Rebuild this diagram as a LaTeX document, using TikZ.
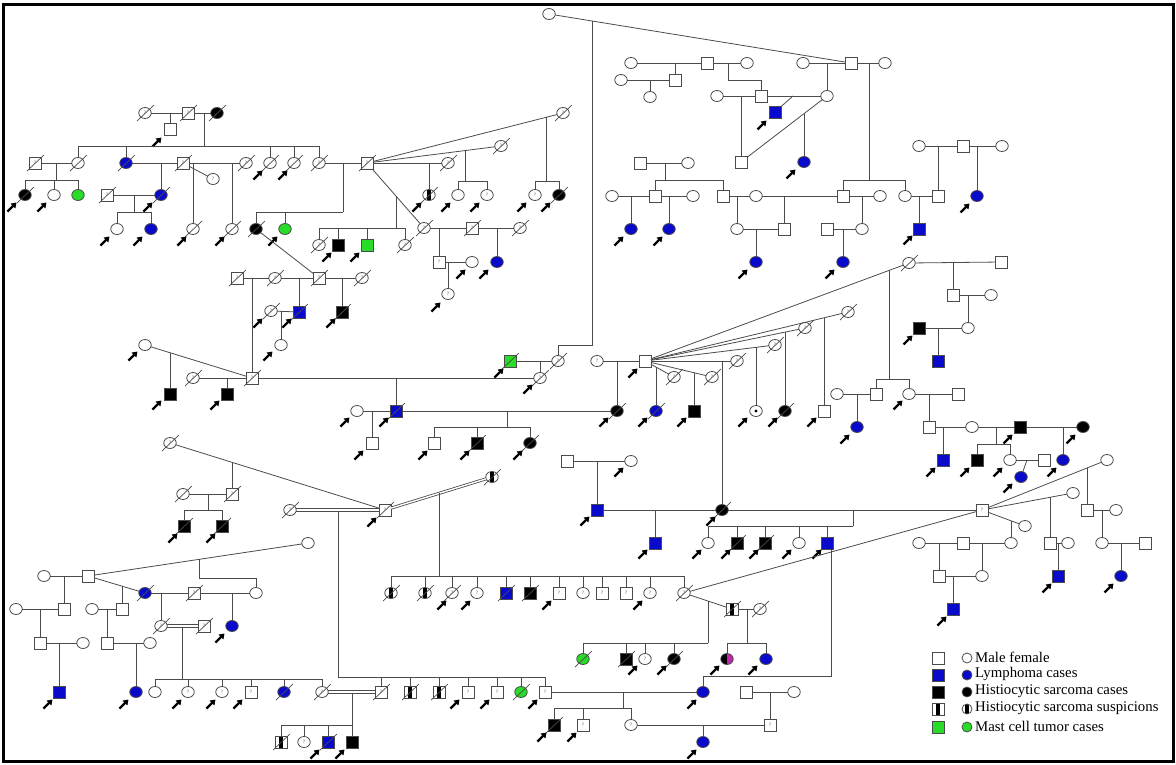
\documentclass[tikz,border=0pt]{standalone}
\usepackage{fontspec}
\setmainfont{Liberation Serif}
\usetikzlibrary{shapes.geometric,arrows.meta}
\definecolor{lymC}{RGB}{10,10,205}
\definecolor{mctC}{RGB}{40,220,40}
\definecolor{magC}{RGB}{190,40,170}
\definecolor{lineC}{RGB}{75,75,75}
\tikzset{
  msym/.style={draw=lineC, fill=white, rectangle, minimum size=12pt, inner sep=0pt, outer sep=0pt, line width=0.8pt},
  fsym/.style={draw=lineC, fill=white, ellipse, minimum width=12.5pt, minimum height=11pt, inner sep=0pt, outer sep=0pt, line width=0.8pt},
  lym/.style={fill=lymC},
  hs/.style={fill=black},
  mct/.style={fill=mctC},
  qlab/.style={font=\fontsize{5}{5}\selectfont, inner sep=0pt, text=lineC},
  qm/.style={label={[qlab]center:?}},
  susp/.style={path picture={\fill[black] ([xshift=-1.8pt]path picture bounding box.south) rectangle ([xshift=1.8pt]path picture bounding box.north);}},
  halfmag/.style={path picture={\fill[black] (path picture bounding box.south west) rectangle (path picture bounding box.north); \fill[magC] (path picture bounding box.south) rectangle (path picture bounding box.north east);}},
  dotc/.style={path picture={\fill[black] (path picture bounding box.center) circle (1.6pt);}},
  dslash/.style={draw=lineC, line width=0.7pt},
  prob/.style={draw=black, line width=2.2pt, -{Triangle[length=5pt,width=6.5pt]}},
  ln/.style={draw=lineC, line width=0.8pt},
  dbl/.style={draw=lineC, line width=0.8pt, double, double distance=1.4pt},
  legtext/.style={anchor=west, inner sep=1pt, text=black, font=\fontsize{14.8}{16}\selectfont}
}
\newcommand\myM[4]{\node[msym,#4] (#1) at (#2,#3) {};}
\newcommand\myF[4]{\node[fsym,#4] (#1) at (#2,#3) {};}
\newcommand\myX[1]{\draw[dslash] ([shift={(-8,8)}]#1.center) -- ([shift={(9,-8)}]#1.center);}
\newcommand\myMd[4]{\myM{#1}{#2}{#3}{#4}\myX{#1}}
\newcommand\myFd[4]{\myF{#1}{#2}{#3}{#4}\myX{#1}}
\newcommand\myA[2]{\draw[prob] (#1,#2) ++(-4.5,4.5) -- ++(9,-9);}
\newcommand\mySib[4]{\draw[ln] (#1,#2) -- (#1,#3); \foreach \kid in {#4}{\draw[ln] (#1,#3) -| (\kid);}}
\newcommand\myDrop[2]{\draw[ln] (#2 |- 0,#1) -- (#2);}
\newcommand\myL[2]{\draw[ln] (#1) -- (#2);}
\newcommand\myDbl[2]{\draw[ln] ([yshift=1.3pt]#1.east) -- ([yshift=1.3pt]#2.west); \draw[ln] ([yshift=-1.3pt]#1.east) -- ([yshift=-1.3pt]#2.west);}
\begin{document}
\begin{tikzpicture}[x=1pt,y=-1pt]
\useasboundingbox (0,0) rectangle (1176,764);
\draw[line width=3pt, black] (3,4) rectangle (1173,761);

% ---------------- top-left family
\myFd{A1}{145}{113}{qm}
\myMd{A2}{188}{113}{qm}
\myFd{A3}{217}{113}{hs}
\myM{A4}{170}{129}{} \myA{157}{142}
\myL{A1}{A2} \myL{A2}{A3} \myDrop{113}{A4}
\myMd{B0}{35}{163}{qm}
\myFd{B1}{78}{163}{}
\myFd{B3}{126}{163}{lym}
\myMd{B4}{183}{163}{qm}
\myF{B5}{213}{179}{qm}
\myFd{B6}{246}{163}{qm}
\myFd{B8}{270}{163}{} \myA{258}{175}
\myFd{B9}{294}{163}{} \myA{283}{175}
\myFd{B10}{319}{163}{qm}
\myMd{B11}{367}{163}{qm}
\mySib{204}{113}{146}{B1,B3,B8,B9,B10}
\myFd{C1}{25}{195}{hs} \myA{12}{207}
\myF{C2}{54}{195}{} \myA{42}{207}
\myF{C3}{78}{195}{mct}
\myL{B0}{B1} \mySib{56}{163}{180}{C1,C2,C3}
\myFd{C5}{161}{195}{lym} \myA{148}{207}
\myMd{C4}{107}{195}{qm}
\myL{B3}{B4} \myDrop{163}{C5}
\myF{D1}{117}{229}{} \myA{105}{241}
\myF{D2}{151}{229}{lym} \myA{138}{241}
\myL{C4}{C5} \mySib{134}{195}{212}{D1,D2}
\myL{B4}{B5} \myL{B4}{B6}
\myFd{D3}{193}{229}{} \myA{182}{241} \myDrop{163}{D3}
\myFd{D4}{232}{229}{} \myA{220}{241} \myDrop{163}{D4}
\myFd{E1}{256}{229}{hs} \myA{273}{241}
\myF{E2}{285}{229}{mct}
\myL{B10}{B11} \mySib{343}{163}{212}{E1,E2}

% ---------------- row 278
\myMd{F1}{237}{278}{qm}
\myFd{F2}{275}{278}{qm}
\myMd{F4}{319}{278}{qm}
\myFd{F5}{362}{278}{qm}
\myL{F1}{F2} \myL{F2}{F4} \myL{F4}{F5} \myL{E1}{F4}
\myMd{F6}{299}{312}{lym} \myA{287}{323} \myDrop{278}{F6}
\myMd{F7}{342}{312}{hs} \myA{331}{323} \myDrop{278}{F7}
\myFd{G1}{271}{311}{qm} \myA{258}{323} \myL{G1}{F6}
\myF{G2}{281}{345}{} \myA{268}{356} \myDrop{311}{G2}
\myMd{G5}{252}{378}{qm} \myDrop{278}{G5}
\myF{G3}{145}{345}{} \myA{133}{356}
\myL{G3}{G5}
\myM{G4}{170}{394}{hs} \myA{157}{405} \draw[ln] (170,352.7) -- (G4);
\myFd{G6}{193}{378}{qm} \myL{G6}{G5}
\myM{G7}{227}{394}{hs} \myA{215}{405} \myDrop{378}{G7}

% ---------------- middle line
\myFd{H1}{540}{378}{qm} \myA{528}{389}
\myL{G5}{H1}
\myMd{H2}{510}{361}{mct} \myA{499}{373}
\myFd{H3}{558}{361}{qm}
\myL{H2}{H3} \myDrop{361}{H1}
\myF{I0}{549}{14}{}
\myM{J1}{851}{63}{}
\myL{I0}{J1}
\coordinate (k1) at (592,21);
\draw[ln] (H3.north) |- (592,345) -- (k1);
\myMd{H4}{396}{411}{lym} \myA{384}{422} \myDrop{378}{H4}
\myF{H5}{357}{411}{} \myA{345}{422} \myL{H5}{H4}
\myM{H6}{372}{443}{} \myA{359}{455} \myDrop{411}{H6}
\myFd{H8}{617}{411}{hs} \myA{604}{422} \myL{H4}{H8}
\myM{H9}{434}{443}{} \myA{423}{455}
\myMd{H10}{477}{443}{hs} \myA{465}{455}
\myFd{H11}{530}{443}{hs} \myA{518}{455}
\mySib{507}{411}{427}{H9,H10,H11}
\myF{I1}{597}{361}{qm}
\myM{I2}{645}{361}{} \myA{633}{373}
\myL{I1}{I2} \myDrop{361}{H8}
\myFd{I3}{674}{377}{qm}
\myFd{I4}{712}{377}{qm}
\myFd{I5}{737}{361}{qm}
\myFd{I6}{775}{345}{qm}
\myFd{I7}{805}{328}{qm}
\myFd{I8}{848}{312}{qm}
\myFd{I9}{909}{263}{}
\foreach \sp in {I3,I4,I5,I6,I7,I8,I9}{\myL{I2}{\sp}}
\myFd{J2}{656}{411}{lym} \myA{643}{422} \draw[ln] (656,367) -- (J2);
\myM{J3}{694}{411}{hs} \myA{682}{422} \draw[ln] (694,372.7) -- (J3);
\myFd{J4}{722}{510}{hs} \myA{711}{521} \draw[ln] (722,361) -- (J4);
\myF{J5}{756}{411}{dotc} \myA{743}{422} \draw[ln] (756,347.3) -- (J5);
\myFd{J6}{785}{411}{hs} \myA{773}{422} \draw[ln] (785,332.1) -- (J6);
\myM{J7}{824}{411}{} \myA{812}{422} \draw[ln] (824,317.8) -- (J7);
\myM{K1}{876}{394}{}
\myF{K2}{909}{394}{} \myA{898}{405}
\mySib{889}{270.4}{379}{K1,K2}
\myM{K3}{958}{394}{} \myL{K2}{K3}
\myM{L1}{929}{427}{} \myDrop{394}{L1}
\myF{L2}{972}{427}{}
\myM{L3}{1020}{427}{hs} \myA{1008}{439}
\myF{L4}{1083}{427}{hs} \myA{1071}{439}
\myL{L1}{L2} \myL{L2}{L3} \myL{L3}{L4}
\myM{L5}{943}{460}{lym} \myA{931}{472} \myDrop{427}{L5}
\myM{L6}{977}{460}{hs} \myA{965}{472}
\myF{L7}{1010}{460}{} \myA{998}{472}
\mySib{996}{427}{444}{L6,L7}
\myF{L8}{1063}{460}{lym} \myA{1052}{472} \myDrop{427}{L8}
\myM{L9}{1044}{460}{} \myL{L7}{L9}
\myF{L10}{1021}{477}{lym} \myA{1008}{488} \draw[ln] (1027,460) -- (L10);
\myF{K4}{837}{394}{} \myL{K4}{K1}
\myF{K5}{857}{427}{lym} \myA{845}{439} \myDrop{394}{K5}
\myM{M1}{1001}{262}{} \myL{I9}{M1}
\myM{M2}{953}{295}{} \myDrop{262}{M2}
\myF{M3}{991}{295}{} \myL{M2}{M3}
\myF{M4}{968}{328}{} \myDrop{295}{M4}
\myM{M5}{919}{328}{hs} \myA{908}{340} \myL{M5}{M4}
\myM{M6}{938}{361}{lym} \myDrop{328}{M6}

% ---------------- row 510
\myM{N1}{597}{510}{lym} \myA{585}{521}
\myM{N2}{567}{461}{}
\myF{N3}{631}{461}{} \myA{619}{472}
\myL{N2}{N3} \myDrop{461}{N1}
\myM{N9}{982}{510}{qm}
\myL{N1}{J4} \myL{J4}{N9}
\myM{N4}{655}{543}{lym} \myA{643}{554} \myDrop{510}{N4}
\myF{O1}{708}{543}{} \myA{697}{554}
\myMd{O2}{737}{543}{hs} \myA{726}{554}
\myMd{O3}{765}{543}{hs} \myA{754}{554}
\myF{O4}{799}{543}{} \myA{787}{554}
\myM{O5}{827}{543}{lym} \myA{817}{554}
\mySib{853}{510}{526}{O1,O2,O3,O4,O5}
\myF{Q1}{703}{692}{lym} \myA{692}{704}
\draw[ln] ([xshift=4pt]O5.south) |- (703,676) -- (Q1);
\myFd{R1}{684}{593}{qm}
\myL{R1}{N9}
\myF{R2}{1107}{460}{} \myL{N9}{R2}
\myM{R3}{1087}{510}{} \draw[ln] (1087,468) -- (R3);
\myF{R4}{1116}{510}{} \myL{R3}{R4}
\myF{R5}{1102}{543}{} \myDrop{510}{R5}
\myM{R6}{1145}{543}{} \myL{R5}{R6}
\myF{R7}{1121}{576}{lym} \myA{1109}{588} \myDrop{543}{R7}
\myF{R8}{1073}{493}{} \myL{N9}{R8}
\myM{R9}{1050}{543}{} \draw[ln] (1050,497.3) -- (R9);
\myF{R10}{1068}{543}{} \myL{R9}{R10}
\myM{R11}{1058}{576}{lym} \myA{1047}{588} \myDrop{543}{R11}
\myF{R12}{1025}{526}{} \myL{N9}{R12}
\myF{R13}{1011}{543}{} \draw[ln] (1011,520.8) -- (R13);
\myF{R14}{919}{543}{}
\myM{R15}{963}{543}{}
\myL{R14}{R15} \myL{R15}{R13}
\myM{R16}{939}{576}{} \myDrop{543}{R16}
\myF{R17}{982}{576}{} \myDrop{543}{R17}
\myL{R16}{R17}
\myM{R18}{953}{609}{lym} \myA{942}{621} \myDrop{576}{R18}

% ---------------- S / T
\myMd{S1}{732}{609}{susp}
\myFd{S2}{760}{609}{qm}
\myL{R1}{S1} \myL{S1}{S2}
\myF{S3}{727}{659}{halfmag} \myA{715}{670}
\myF{S4}{766}{659}{lym} \myA{753}{670}
\mySib{747}{609}{643}{S3,S4}
\myFd{T1}{583}{659}{mct}
\myMd{T2}{626}{659}{hs}
\myF{T3}{645}{659}{qm} \myA{633}{670}
\myFd{T4}{674}{659}{hs} \myA{662}{670}
\mySib{708}{601}{643}{T1,T2,T3,T4}

% ---------------- U / V / X / Y
\myMd{V2}{385}{510}{qm} \myA{372}{522}
\myFd{V3}{492}{477}{susp}
\draw[dbl] (V2) -- (V3);
\myFd{V1}{290}{510}{qm}
\myDbl{V1}{V2}
\myFd{W1}{170}{443}{qm}
\myL{W1}{V2}
\myFd{U1}{391}{593}{susp}
\myFd{U2}{425}{593}{susp}
\myFd{U3}{452}{593}{qm} \myA{442}{605}
\myF{U4}{477}{593}{qm} \myA{466}{605}
\myMd{U5}{506}{593}{lym}
\myMd{U6}{530}{593}{hs}
\myM{U7}{559}{593}{qm} \myA{547}{605}
\myF{U8}{583}{593}{qm}
\myM{U9}{602}{593}{qm}
\myM{U10}{626}{593}{qm}
\myF{U11}{650}{593}{qm} \myA{638}{605}
\mySib{439}{493.3}{576}{U1,U2,U3,U4,U5,U6,U7,U8,U9,U10,U11,R1}
\myMd{X1}{381}{692}{qm}
\myMd{X2}{410}{692}{susp}
\myMd{X3}{439}{692}{susp}
\myM{X4}{468}{692}{qm} \myA{455}{704}
\myM{X5}{497}{692}{qm} \myA{485}{704}
\myFd{X6}{521}{692}{mct}
\myM{X7}{545}{692}{qm} \myA{533}{704}
\mySib{338}{511.3}{677}{X1,X2,X3,X4,X5,X6,X7}
\myFd{X0}{322}{692}{qm}
\myDbl{X0}{X1}
\myMd{Y1}{281}{742}{susp}
\myF{Y2}{304}{742}{qm}
\myMd{Y3}{328}{742}{lym} \myA{315}{754}
\myM{Y4}{352}{742}{hs} \myA{340}{754}
\mySib{352}{693.3}{725}{Y1,Y2,Y3,Y4}
\myL{X7}{Q1}
\myMd{Q2}{554}{725}{hs} \myA{542}{737}
\myM{Q3}{583}{725}{qm} \myA{572}{737}
\myF{Q4}{631}{725}{qm}
\mySib{623}{692}{708}{Q2,Q3,Q4}
\myM{Q5}{770}{725}{qm}
\myL{Q4}{Q5}
\myM{Q6}{746}{692}{}
\myF{Q7}{794}{692}{}
\myL{Q6}{Q7} \myDrop{692}{Q5}
\myF{Q8}{703}{742}{lym} \myA{692}{754} \myDrop{725}{Q8}

% ---------------- W
\myMd{W3}{232}{494}{qm}
\myFd{W2}{183}{494}{}
\draw[ln] (232,462.3) -- (W3); \myL{W2}{W3}
\myMd{W4}{184}{526}{hs} \myA{173}{538}
\myMd{W5}{222}{526}{hs} \myA{211}{538}
\mySib{208}{494}{510}{W4,W5}

% ---------------- Z (bottom-left)
\myF{Z1}{44}{576}{}
\myM{Z2}{88}{576}{}
\myL{Z1}{Z2}
\myF{Z3}{308}{543}{}
\myL{Z2}{Z3}
\myF{Z4}{256}{593}{}
\mySib{199}{559.4}{578}{Z4}
\myM{Z5}{64}{609}{} \myDrop{576}{Z5}
\myF{Z6}{16}{609}{} \myL{Z6}{Z5}
\myM{Z7}{40}{643}{} \myDrop{609}{Z7}
\myF{Z8}{83}{643}{} \myL{Z7}{Z8}
\myM{Z9}{59}{692}{lym} \myA{48}{704} \myDrop{643}{Z9}
\myFd{Z10}{145}{593}{lym} \myL{Z2}{Z10}
\myM{Z11}{122}{609}{} \draw[ln] (122,586.1) -- (Z11);
\myF{Z12}{92}{609}{} \myL{Z12}{Z11}
\myM{Z13}{107}{643}{} \myDrop{609}{Z13}
\myF{Z14}{150}{643}{} \myL{Z13}{Z14}
\myF{Z15}{136}{692}{lym} \myA{124}{704} \myDrop{643}{Z15}
\myMd{Z16}{194}{593}{qm}
\myL{Z10}{Z16} \myL{Z16}{Z4}
\myFd{Z17}{161}{626}{qm} \myDrop{593}{Z17}
\myMd{Z18}{204}{626}{qm}
\myDbl{Z17}{Z18}
\myF{Z19}{155}{692}{}
\myF{Z20}{188}{692}{qm} \myA{177}{704}
\myF{Z21}{222}{692}{qm} \myA{211}{704}
\myM{Z22}{251}{692}{qm} \myA{238}{704}
\myFd{Z23}{284}{692}{lym}
\mySib{182}{627.3}{679}{Z19,Z20,Z21,Z22,Z23,X0}
\myF{Z24}{232}{626}{lym} \myA{220}{638} \myDrop{593}{Z24}

% ---------------- top right
\myF{TA1}{631}{63}{}
\myM{TA2}{707}{63}{}
\myF{TA3}{747}{63}{}
\myL{TA1}{TA2} \myL{TA2}{TA3}
\myM{TA4}{675}{80}{} \myDrop{63}{TA4}
\myF{TA5}{621}{80}{} \myL{TA5}{TA4}
\myF{TA6}{650}{97}{} \myDrop{80}{TA6}
\myM{TA7}{761}{96}{} \draw[ln] (728,63) -- (728,80) -| (TA7);
\myF{TA8}{717}{96}{} \myL{TA8}{TA7}
\myF{Jc}{827}{96}{} \myL{TA7}{Jc}
\myF{J0}{803}{63}{} \myL{J0}{J1} \myDrop{63}{Jc}
\myM{TA9}{741}{162}{} \myDrop{96}{TA9}
\myL{TA9}{Jc}
\myM{TA10}{775}{112}{lym} \myA{762}{125} \draw[ln] (793,96) -- (TA10);
\myF{TA11}{804}{162}{lym} \myA{791}{174} \draw[ln] (804,113.7) -- (TA11);
\myF{J9}{885}{63}{} \myL{J1}{J9}
\myM{Ja}{843}{196}{}
\myF{Jb}{905}{196}{}
\mySib{869}{63}{180}{Ja,Jb}
\myM{TB1}{640}{163}{}
\myF{TB2}{688}{163}{}
\myL{TB1}{TB2}
\myM{TB3}{655}{196}{}
\myM{TB4}{723}{196}{}
\mySib{665}{163}{180}{TB3,TB4}
\myF{TB5}{612}{196}{} \myL{TB5}{TB3}
\myF{TB6}{693}{196}{} \myL{TB3}{TB6}
\myF{TB7}{631}{229}{lym} \myA{619}{241} \myDrop{196}{TB7}
\myF{TB8}{669}{229}{lym} \myA{658}{241} \myDrop{196}{TB8}
\myF{TB9}{756}{196}{} \myL{TB4}{TB9} \myL{TB9}{Ja}
\myF{TB10}{737}{229}{} \myDrop{196}{TB10}
\myM{TB11}{784}{229}{} \myDrop{196}{TB11} \myL{TB10}{TB11}
\myF{TB12}{756}{262}{lym} \myA{743}{274} \myDrop{229}{TB12}
\myF{TB13}{880}{196}{} \myL{Ja}{TB13}
\myF{TB14}{862}{229}{} \myDrop{196}{TB14}
\myM{TB15}{827}{229}{} \myL{TB15}{TB14}
\myF{TB16}{843}{262}{lym} \myA{830}{274} \myDrop{229}{TB16}
\myM{TB17}{938}{196}{} \myL{Jb}{TB17}
\myM{TB18}{919}{229}{lym} \myA{908}{240} \myDrop{196}{TB18}
\myF{TB19}{919}{146}{}
\myM{TB20}{963}{146}{}
\myF{TB21}{1002}{146}{}
\myL{TB19}{TB20} \myL{TB20}{TB21}
\myDrop{146}{TB17}
\myF{TB22}{977}{196}{lym} \myA{965}{208} \myDrop{146}{TB22}

% ---------------- top middle (male B11 spouses)
\myFd{C10}{448}{163}{qm} \myL{B11}{C10}
\myFd{C11}{429}{195}{susp} \myA{417}{207} \myDrop{163}{C11}
\myFd{C12}{501}{146}{qm} \myL{B11}{C12}
\myF{C13}{458}{195}{} \myA{446}{207}
\myF{C14}{487}{195}{qm} \myA{475}{207}
\mySib{465}{150.6}{181}{C13,C14}
\myFd{C15}{563}{113}{qm} \myL{B11}{C15}
\myF{C16}{535}{195}{qm} \myA{522}{207}
\myFd{C17}{559}{195}{hs} \myA{546}{207}
\mySib{546}{117.3}{181}{C16,C17}
\myFd{C18}{424}{228}{qm} \myL{B11}{C18}
\myFd{E3}{319}{245}{qm}
\myM{E4}{338}{245}{hs} \myA{327}{257}
\myM{E5}{367}{245}{mct} \myA{355}{257}
\myFd{E6}{405}{245}{qm}
\mySib{396}{196.1}{228}{E3,E4,E5,E6}
\myMd{C19}{472}{228}{qm} \myL{C18}{C19}
\myFd{C20}{520}{228}{qm} \myL{C19}{C20}
\myM{C21}{439}{262}{qm} \myDrop{228}{C21}
\myF{C22}{472}{262}{} \myA{461}{274} \myL{C21}{C22}
\myF{C23}{448}{294}{qm} \myA{436}{307} \myDrop{262}{C23}
\myF{C24}{497}{262}{lym} \myA{484}{274} \myDrop{228}{C24}

% ---------------- legend
\myM{LS1}{938}{658}{}
\myM{LS2}{938}{675}{lym}
\myM{LS3}{938}{692}{hs}
\myM{LS4}{938}{709}{susp}
\myM{LS5}{938}{727}{mct}
\node[fsym, minimum width=10pt, minimum height=10pt] (LC1) at (967,658) {};
\node[fsym, minimum width=10pt, minimum height=10pt, lym] (LC2) at (967,675) {};
\node[fsym, minimum width=10pt, minimum height=10pt, hs] (LC3) at (967,692) {};
\node[fsym, minimum width=10pt, minimum height=10pt, susp] (LC4) at (967,709) {};
\node[fsym, minimum width=10pt, minimum height=10pt, mct] (LC5) at (967,727) {};
\node[legtext] (LT1) at (974,657) {Male female};
\node[legtext] (LT2) at (974,674) {Lymphoma cases};
\node[legtext] (LT3) at (974,691) {Histiocytic sarcoma cases};
\node[legtext] (LT4) at (974,708) {Histiocytic sarcoma suspicions};
\node[legtext] (LT5) at (974,726) {Mast cell tumor cases};
\end{tikzpicture}
\end{document}
